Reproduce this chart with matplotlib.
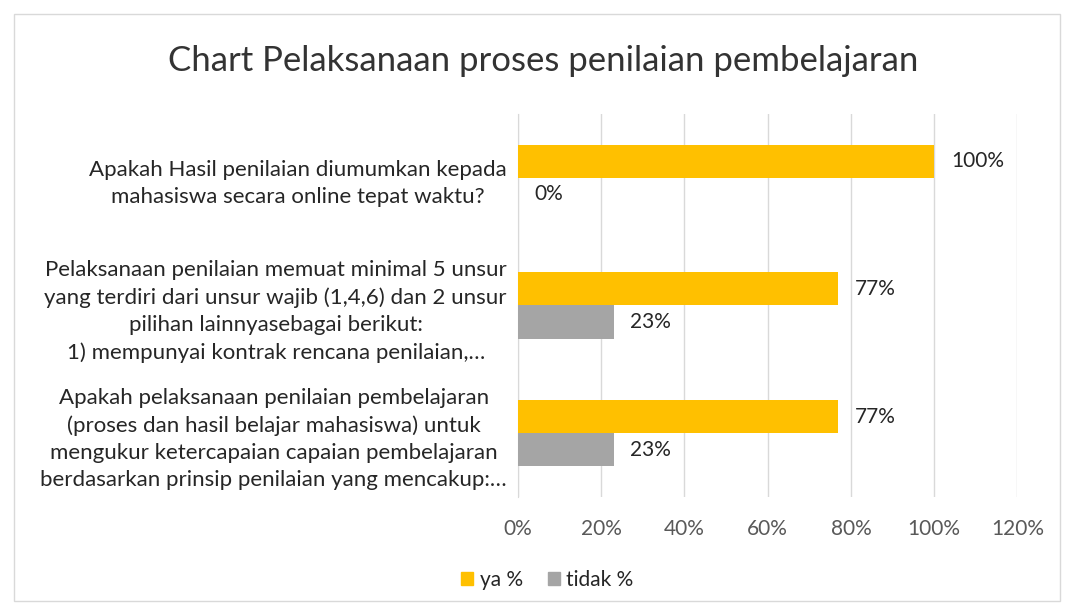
import matplotlib
matplotlib.use("Agg")
import matplotlib.pyplot as plt
from matplotlib.patches import Rectangle, Patch
import numpy as np

plt.rcParams["font.family"] = ["Lato", "DejaVu Sans"]

title = "Chart Pelaksanaan proses penilaian pembelajaran"

# categories from bottom to top (Excel order)
categories = [
    "Apakah pelaksanaan penilaian pembelajaran\n(proses dan hasil belajar mahasiswa) untuk\nmengukur ketercapaian capaian pembelajaran\nberdasarkan prinsip penilaian yang mencakup:…",
    "Pelaksanaan penilaian memuat minimal 5 unsur\nyang terdiri dari unsur wajib (1,4,6) dan 2 unsur\npilihan lainnyasebagai berikut:\n1) mempunyai kontrak rencana penilaian,…",
    "Apakah Hasil penilaian diumumkan kepada\nmahasiswa secara online tepat waktu?",
]
ya = [0.77, 0.77, 1.00]
tidak = [0.23, 0.23, 0.00]
series_names = ["ya %", "tidak %"]
colors = ["#FFC000", "#A5A5A5"]
xticks = [0, 0.2, 0.4, 0.6, 0.8, 1.0, 1.2]

fig = plt.figure(figsize=(10.73, 6.08), dpi=100)
ax = fig.add_axes([0.4828, 0.1826, 0.4653, 0.6299])

# outer chart border
fig.patches.append(Rectangle((0.013, 0.012), 0.975, 0.965, transform=fig.transFigure,
                             fill=False, edgecolor="#d9d9d9", linewidth=1))

y = np.arange(len(categories))
h = 0.26
ax.barh(y + h / 2, ya, height=h, color=colors[0], zorder=3)
ax.barh(y - h / 2, tidak, height=h, color=colors[1], zorder=3)

for yi, v in zip(y, ya):
    ax.annotate(f"{v:.0%}", (v, yi + h / 2), xytext=(12, 0), textcoords="offset points",
                va="center", ha="left", fontsize=15, color="#262626")
for yi, v in zip(y, tidak):
    ax.annotate(f"{v:.0%}", (v, yi - h / 2), xytext=(12, 0), textcoords="offset points",
                va="center", ha="left", fontsize=15, color="#262626")

ax.set_xlim(0, 1.2)
ax.set_ylim(-0.5, len(categories) - 0.5)
ax.set_xticks(xticks)
ax.set_xticklabels([f"{t:.0%}" for t in xticks], fontsize=15, color="#595959")
ax.set_yticks(y)
ax.set_yticklabels(categories, fontsize=16, color="#262626",
                   multialignment="center", linespacing=1.45)
ax.tick_params(axis="both", length=0)
ax.tick_params(axis="x", pad=16)
ax.tick_params(axis="y", pad=8)
ax.grid(axis="x", color="#d9d9d9", linewidth=1, zorder=0)
for side in ["top", "right", "bottom"]:
    ax.spines[side].set_visible(False)
ax.spines["left"].set_color("#d9d9d9")

fig.text(0.506, 0.9, title, ha="center", va="center", fontsize=25, color="#333333")

handles = [Patch(color=c, label=n) for c, n in zip(colors, series_names)]
fig.legend(handles=handles, loc="center", bbox_to_anchor=(0.51, 0.046), ncol=2,
           frameon=False, fontsize=15, handlelength=0.6, handleheight=0.6,
           handletextpad=0.3, columnspacing=1.2, labelcolor="#262626")

fig.savefig("out.png", dpi=100)
